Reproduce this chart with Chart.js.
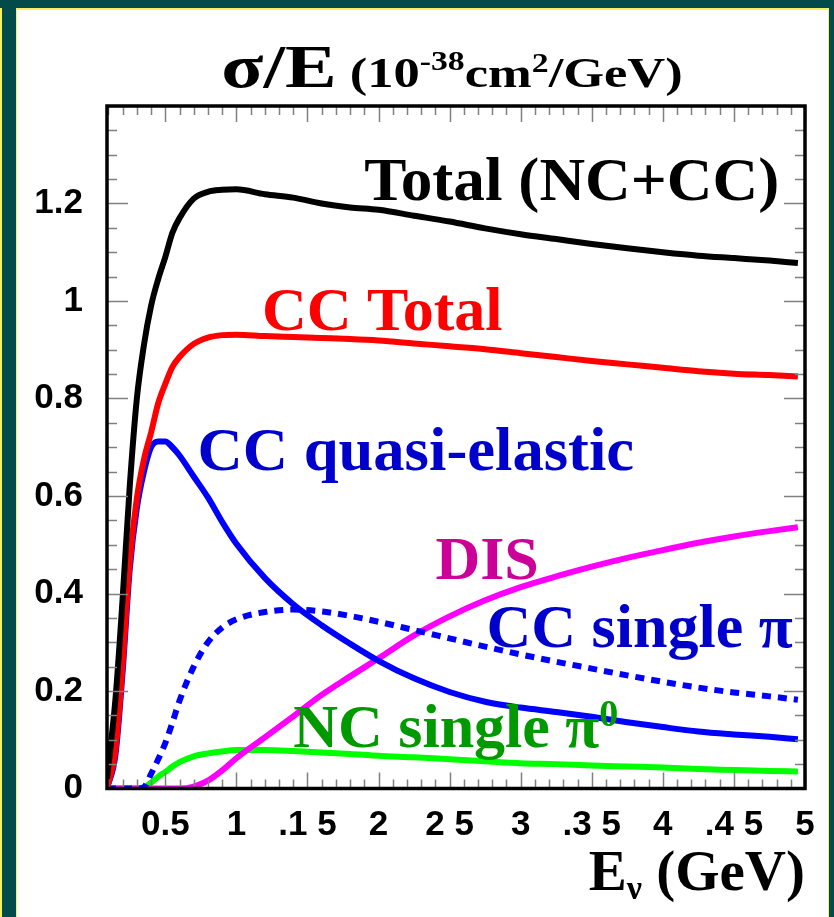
<!DOCTYPE html>
<html>
<head>
<meta charset="utf-8">
<title>sigma/E</title>
<script src="https://cdn.jsdelivr.net/npm/chart.js@4.4.1/dist/chart.umd.min.js"></script>
<style>
    html, body { margin: 0; padding: 0; background: #fff; }
    canvas { display: block; }
</style>
</head>
<body>
<canvas id="xsecChart" width="834" height="917"></canvas>
<script>
// Energia do neutrino (GeV)
const energy = [0.09, 0.15, 0.2, 0.25, 0.3, 0.35, 0.4, 0.45, 0.5, 0.55, 0.6, 0.7, 0.8, 0.9, 1.0,
    1.2, 1.4, 1.6, 1.8, 2.0, 2.25, 2.5, 2.75, 3.0, 3.25, 3.5, 3.75, 4.0, 4.25, 4.5, 4.75, 4.95];

// sigma/E (10^-38 cm2/GeV)
const totalNcCc = [0.02, 0.185, 0.39, 0.62, 0.80, 0.91, 0.99, 1.045, 1.09, 1.14, 1.17, 1.21, 1.224, 1.228, 1.229,
    1.219, 1.212, 1.200, 1.192, 1.187, 1.175, 1.163, 1.149, 1.137, 1.127, 1.117, 1.108, 1.100, 1.093, 1.088, 1.083, 1.078];
const ccTotal = [0.0, 0.08, 0.255, 0.465, 0.595, 0.675, 0.73, 0.79, 0.83, 0.865, 0.885, 0.912, 0.925, 0.93, 0.931,
    0.928, 0.926, 0.924, 0.922, 0.919, 0.913, 0.907, 0.901, 0.893, 0.885, 0.877, 0.870, 0.863, 0.856, 0.851, 0.848, 0.845];
const ccQuasiElastic = [0.0, 0.07, 0.24, 0.45, 0.575, 0.65, 0.70, 0.712, 0.712, 0.70, 0.683, 0.640, 0.597, 0.547, 0.502,
    0.432, 0.378, 0.335, 0.297, 0.262, 0.226, 0.198, 0.178, 0.166, 0.157, 0.147, 0.136, 0.126, 0.117, 0.111, 0.106, 0.101];
const ccSinglePi = [0, 0, 0, 0, 0, 0.003, 0.03, 0.06, 0.093, 0.135, 0.180, 0.250, 0.300, 0.330, 0.347,
    0.362, 0.367, 0.363, 0.354, 0.342, 0.325, 0.308, 0.291, 0.275, 0.260, 0.246, 0.232, 0.219, 0.207, 0.197, 0.189, 0.182];
const dis = [0, 0, 0, 0, 0, 0, 0, 0, 0, 0, 0, 0.004, 0.016, 0.037, 0.062,
    0.105, 0.148, 0.192, 0.230, 0.267, 0.314, 0.353, 0.386, 0.413, 0.435, 0.455, 0.473, 0.489, 0.504, 0.517, 0.528, 0.536];
const ncSinglePi0 = [0, 0, 0, 0, 0, 0.002, 0.012, 0.024, 0.034, 0.045, 0.054, 0.066, 0.072, 0.076, 0.079,
    0.079, 0.077, 0.074, 0.071, 0.067, 0.064, 0.060, 0.056, 0.052, 0.050, 0.047, 0.045, 0.043, 0.040, 0.038, 0.036, 0.035];

// Rótulos dos eixos (como aparecem na figura)
const xTickValues = [0.5, 1, 1.5, 2, 2.5, 3, 3.5, 4, 4.5, 5];
const xTickLabels = ['0.5', '1', '.1 5', '2', '2 5', '3', '.3 5', '4', '.4 5', '5'];
const yTickValues = [0, 0.2, 0.4, 0.6, 0.8, 1, 1.2];
const yTickLabels = ['0', '0.2', '0.4', '0.6', '0.8', '1', '1.2'];

const SERIF = '"Liberation Serif", "Times New Roman", serif';
const SANS = '"Liberation Sans", Arial, sans-serif';

function toPoints(values) {
    return values.map((v, i) => ({ x: energy[i], y: v }));
}

// Texto com partes de tamanhos diferentes (sobrescrito / subscrito)
function drawRichText(ctx, parts, x, y, align, stretch) {
    const sx = stretch || 1;
    let width = 0;
    parts.forEach(p => { ctx.font = p.font; width += ctx.measureText(p.text).width; });
    width *= sx;
    const x0 = align === 'center' ? x - width / 2 : (align === 'right' ? x - width : x);
    ctx.save();
    ctx.translate(x0, y);
    ctx.scale(sx, 1);
    ctx.textAlign = 'left';
    ctx.textBaseline = 'alphabetic';
    let cx = 0;
    parts.forEach(p => {
        ctx.font = p.font;
        ctx.fillStyle = p.color || '#000';
        ctx.fillText(p.text, cx, p.dy || 0);
        cx += ctx.measureText(p.text).width;
    });
    ctx.restore();
}

const decorPlugin = {
    id: 'decor',
    beforeDraw(chart) {
        const ctx = chart.ctx;
        const w = chart.width, h = chart.height;
        ctx.save();
        ctx.fillStyle = '#ffffff';
        ctx.fillRect(0, 0, w, h);
        // moldura do slide
        ctx.fillStyle = '#f4f060';
        ctx.fillRect(0, 0, w, 10);
        ctx.fillRect(0, 0, 17, h);
        ctx.fillRect(w - 6, 0, 6, h);
        ctx.fillStyle = '#034a4a';
        ctx.fillRect(0, 0, w, 8);
        ctx.fillRect(2, 0, 14, h);
        ctx.fillRect(w - 5, 0, 5, h);
        ctx.restore();
    },
    afterDatasetsDraw(chart) {
        const ctx = chart.ctx;
        const area = chart.chartArea;
        const xs = chart.scales.x, ys = chart.scales.y;
        ctx.save();
        ctx.strokeStyle = '#808080';
        ctx.lineWidth = 1.5;
        ctx.beginPath();
        // marcas do eixo x (em baixo e em cima)
        for (let k = 1; k <= 50; k++) {
            const v = k / 10;
            if (v < xs.min || v > xs.max) continue;
            const px = Math.round(xs.getPixelForValue(v)) + 0.5;
            const len = (k % 5 === 0) ? 16 : 9;
            ctx.moveTo(px, area.bottom); ctx.lineTo(px, area.bottom - len);
            ctx.moveTo(px, area.top); ctx.lineTo(px, area.top + len);
        }
        // marcas do eixo y (esquerda e direita)
        for (let k = 1; k <= 28; k++) {
            const v = k / 20;
            const py = Math.round(ys.getPixelForValue(v)) + 0.5;
            const len = (k % 4 === 0) ? 21 : 10;
            ctx.moveTo(area.left, py); ctx.lineTo(area.left + len, py);
            ctx.moveTo(area.right, py); ctx.lineTo(area.right - len, py);
        }
        ctx.stroke();
        ctx.strokeStyle = '#000';
        ctx.lineWidth = 3.5;
        ctx.strokeRect(area.left, area.top, area.right - area.left, area.bottom - area.top);
        ctx.restore();
    },
    afterDraw(chart) {
        const ctx = chart.ctx;
        const area = chart.chartArea;
        const xs = chart.scales.x, ys = chart.scales.y;
        ctx.save();

        // título (a figura original está esticada na horizontal)
        drawRichText(ctx, [
            { text: 'σ/E', font: 'bold 62px ' + SERIF },
            { text: ' (10', font: 'bold 42px ' + SERIF },
            { text: '-38', font: 'bold 27px ' + SERIF, dy: -17 },
            { text: 'cm', font: 'bold 42px ' + SERIF },
            { text: '2', font: 'bold 27px ' + SERIF, dy: -15 },
            { text: '/GeV)', font: 'bold 42px ' + SERIF }
        ], (area.left + area.right) / 2 - 4, 87, 'center', 1.25);

        // título do eixo x
        drawRichText(ctx, [
            { text: 'E', font: 'bold 57px ' + SERIF },
            { text: 'ν', font: 'bold 34px ' + SERIF, dy: 9 },
            { text: ' (GeV)', font: 'bold 57px ' + SERIF }
        ], area.right, 890, 'right');

        // rótulos das curvas
        const F = 'bold 62px ' + SERIF;
        const at = (e, v) => [xs.getPixelForValue(e), ys.getPixelForValue(v)];
        let p;
        p = at(1.90, 1.208);
        drawRichText(ctx, [{ text: 'Total (NC+CC)', font: F, color: '#000000' }], p[0], p[1], 'left', 1.02);
        p = at(1.18, 0.940);
        drawRichText(ctx, [{ text: 'CC Total', font: F, color: '#ff0000' }], p[0], p[1], 'left');
        p = at(0.727, 0.654);
        drawRichText(ctx, [{ text: 'CC quasi-elastic', font: F, color: '#0000cc' }], p[0], p[1], 'left', 1.01);
        p = at(2.40, 0.429);
        drawRichText(ctx, [{ text: 'DIS', font: F, color: '#cc0099' }], p[0], p[1], 'left');
        p = at(2.76, 0.291);
        drawRichText(ctx, [{ text: 'CC single π', font: F, color: '#0000cc' }], p[0], p[1], 'left');
        p = at(1.40, 0.086);
        drawRichText(ctx, [
            { text: 'NC single π', font: F, color: '#009900' },
            { text: '0', font: 'bold 38px ' + SERIF, color: '#009900', dy: -21 }
        ], p[0], p[1], 'left');

        ctx.restore();
    }
};

function lineDataset(label, values, color, dashed) {
    return {
        label: label,
        data: toPoints(values),
        borderColor: color,
        backgroundColor: color,
        borderWidth: 6,
        borderDash: dashed ? [9, 7] : [],
        pointRadius: 0,
        cubicInterpolationMode: 'monotone',
        fill: false
    };
}

function initChart() {
    const ctx = document.getElementById('xsecChart').getContext('2d');
    new Chart(ctx, {
        type: 'line',
        data: {
            datasets: [
                lineDataset('Total (NC+CC)', totalNcCc, '#000000', false),
                lineDataset('CC Total', ccTotal, '#ff0000', false),
                lineDataset('CC quasi-elastic', ccQuasiElastic, '#0000ff', false),
                lineDataset('CC single pi', ccSinglePi, '#0000ff', true),
                lineDataset('DIS', dis, '#ff00ff', false),
                lineDataset('NC single pi0', ncSinglePi0, '#00ff00', false)
            ]
        },
        options: {
            responsive: false,
            animation: false,
            devicePixelRatio: 1,
            layout: { padding: { top: 106, right: 29, left: 0, bottom: 0 } },
            plugins: {
                legend: { display: false },
                tooltip: { enabled: false }
            },
            scales: {
                x: {
                    type: 'linear',
                    min: 0.09,
                    max: 5,
                    grid: { display: false, drawTicks: false },
                    border: { display: false },
                    afterBuildTicks: function(scale) {
                        scale.ticks = xTickValues.map(v => ({ value: v }));
                    },
                    afterFit: function(scale) { scale.height = 128.5; },
                    ticks: {
                        autoSkip: false,
                        maxRotation: 0,
                        padding: 16,
                        color: '#000',
                        font: { family: SANS, size: 35, weight: 'bold' },
                        callback: function(value, index) { return xTickLabels[index]; }
                    }
                },
                y: {
                    min: 0,
                    max: 1.4,
                    grid: { display: false, drawTicks: false },
                    border: { display: false },
                    afterBuildTicks: function(scale) {
                        scale.ticks = yTickValues.map(v => ({ value: v }));
                    },
                    afterFit: function(scale) { scale.width = 107; },
                    ticks: {
                        padding: 24,
                        color: '#000',
                        font: { family: SANS, size: 35, weight: 'bold' },
                        callback: function(value, index) { return yTickLabels[index]; }
                    }
                }
            }
        },
        plugins: [decorPlugin]
    });
}

document.addEventListener('DOMContentLoaded', initChart);
</script>
</body>
</html>
